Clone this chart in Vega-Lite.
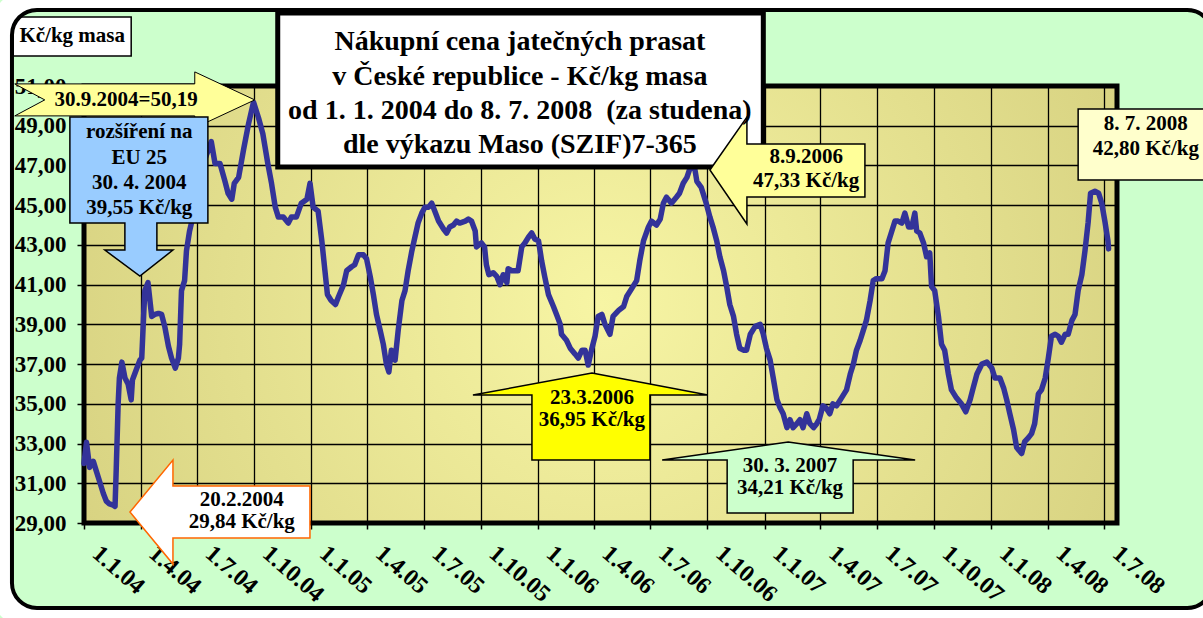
{
  "$schema": "https://vega.github.io/schema/vega-lite/v6.json",
  "width": 1033,
  "height": 437,
  "autosize": {"type": "none"},
  "padding": {"left": 84, "top": 86, "right": 86, "bottom": 95},
  "background": "#CCFFCC",
  "config": {
    "font": "Liberation Serif",
    "axis": {"labelOverlap": false, "labelFlush": false, "labelBound": false, "labelSeparation": 0,
      "labelFont": "Liberation Serif", "labelFontWeight": "bold", "labelColor": "#000000",
      "tickColor": "#000000", "tickWidth": 1.5, "domain": false,
      "grid": true, "gridColor": "#000000", "gridWidth": 1.3, "gridOpacity": 1, "title": null},
    "axisX": {"labelAngle": 41, "labelAlign": "left", "labelBaseline": "top", "labelPadding": 12, "labelOffset": 19,
      "labelFontSize": 24, "tickSize": 6, "labelOverlap": false, "tickCount": 40},
    "axisY": {"labelFontSize": 23, "labelPadding": 11, "tickSize": 7, "labelOverlap": false, "tickCount": 40},
    "view": {
      "stroke": "#000000",
      "strokeWidth": 5,
      "fill": {"gradient": "radial", "x1": 0.5, "y1": 0.5, "r1": 0, "x2": 0.5, "y2": 0.5, "r2": 0.72,
        "stops": [{"offset": 0, "color": "#F7F5A4"}, {"offset": 1, "color": "#CEC877"}]}
    },
    "text": {"font": "Liberation Serif", "fontWeight": "bold", "color": "#000000"}
  },
  "datasets": {
    "prices": [
      {"date": "2004-01-01", "price": 32.0}, {"date": "2004-01-05", "price": 33.06}, {"date": "2004-01-10", "price": 31.8},
      {"date": "2004-01-16", "price": 32.1}, {"date": "2004-01-21", "price": 31.6}, {"date": "2004-01-26", "price": 31.1},
      {"date": "2004-02-01", "price": 30.5}, {"date": "2004-02-06", "price": 30.1}, {"date": "2004-02-11", "price": 29.96},
      {"date": "2004-02-17", "price": 29.9}, {"date": "2004-02-20", "price": 29.84}, {"date": "2004-02-22", "price": 31.8},
      {"date": "2004-02-25", "price": 35.0}, {"date": "2004-02-27", "price": 36.3}, {"date": "2004-03-02", "price": 37.1},
      {"date": "2004-03-07", "price": 36.3}, {"date": "2004-03-12", "price": 36.0}, {"date": "2004-03-17", "price": 35.2},
      {"date": "2004-03-19", "price": 36.2}, {"date": "2004-03-25", "price": 36.7}, {"date": "2004-03-31", "price": 37.2},
      {"date": "2004-04-03", "price": 37.3}, {"date": "2004-04-06", "price": 39.4}, {"date": "2004-04-08", "price": 40.7},
      {"date": "2004-04-13", "price": 41.1}, {"date": "2004-04-19", "price": 39.4}, {"date": "2004-04-24", "price": 39.5},
      {"date": "2004-04-30", "price": 39.55}, {"date": "2004-05-05", "price": 39.5}, {"date": "2004-05-10", "price": 38.9},
      {"date": "2004-05-16", "price": 37.9}, {"date": "2004-05-21", "price": 37.3}, {"date": "2004-05-27", "price": 36.8},
      {"date": "2004-06-01", "price": 37.3}, {"date": "2004-06-03", "price": 38.0}, {"date": "2004-06-06", "price": 40.7},
      {"date": "2004-06-11", "price": 41.2}, {"date": "2004-06-14", "price": 42.7}, {"date": "2004-06-19", "price": 43.7},
      {"date": "2004-06-22", "price": 44.1}, {"date": "2004-07-01", "price": 45.6}, {"date": "2004-07-10", "price": 47.0},
      {"date": "2004-07-24", "price": 48.2}, {"date": "2004-07-30", "price": 47.1}, {"date": "2004-08-07", "price": 47.1},
      {"date": "2004-08-15", "price": 46.2}, {"date": "2004-08-20", "price": 45.6}, {"date": "2004-08-26", "price": 45.3},
      {"date": "2004-08-30", "price": 46.1}, {"date": "2004-09-06", "price": 46.4}, {"date": "2004-09-14", "price": 47.8},
      {"date": "2004-09-22", "price": 49.1}, {"date": "2004-09-30", "price": 50.19}, {"date": "2004-10-08", "price": 49.4},
      {"date": "2004-10-15", "price": 48.6}, {"date": "2004-10-23", "price": 47.1}, {"date": "2004-10-29", "price": 46.1},
      {"date": "2004-11-04", "price": 44.9}, {"date": "2004-11-09", "price": 44.4}, {"date": "2004-11-17", "price": 44.4},
      {"date": "2004-11-25", "price": 44.1}, {"date": "2004-11-30", "price": 44.4}, {"date": "2004-12-08", "price": 44.4},
      {"date": "2004-12-16", "price": 45.1}, {"date": "2004-12-25", "price": 45.3}, {"date": "2004-12-30", "price": 46.1},
      {"date": "2005-01-04", "price": 44.9}, {"date": "2005-01-12", "price": 44.7}, {"date": "2005-01-18", "price": 43.2},
      {"date": "2005-01-23", "price": 41.7}, {"date": "2005-01-27", "price": 40.5}, {"date": "2005-02-02", "price": 40.2},
      {"date": "2005-02-09", "price": 40.0}, {"date": "2005-02-14", "price": 40.4}, {"date": "2005-02-22", "price": 41.0},
      {"date": "2005-02-27", "price": 41.7}, {"date": "2005-03-07", "price": 41.9}, {"date": "2005-03-12", "price": 42.0},
      {"date": "2005-03-18", "price": 42.5}, {"date": "2005-03-26", "price": 42.5}, {"date": "2005-03-31", "price": 42.3},
      {"date": "2005-04-06", "price": 41.4}, {"date": "2005-04-11", "price": 40.5}, {"date": "2005-04-16", "price": 39.5},
      {"date": "2005-04-22", "price": 38.7}, {"date": "2005-04-27", "price": 38.0}, {"date": "2005-05-02", "price": 37.0},
      {"date": "2005-05-06", "price": 36.6}, {"date": "2005-05-10", "price": 37.7}, {"date": "2005-05-16", "price": 37.2},
      {"date": "2005-05-21", "price": 38.7}, {"date": "2005-05-27", "price": 40.2}, {"date": "2005-06-01", "price": 40.7},
      {"date": "2005-06-06", "price": 41.7}, {"date": "2005-06-12", "price": 42.7}, {"date": "2005-06-17", "price": 43.4},
      {"date": "2005-06-22", "price": 44.1}, {"date": "2005-06-28", "price": 44.6}, {"date": "2005-07-03", "price": 44.9},
      {"date": "2005-07-09", "price": 44.9}, {"date": "2005-07-14", "price": 45.1}, {"date": "2005-07-19", "price": 44.7},
      {"date": "2005-07-25", "price": 44.2}, {"date": "2005-08-02", "price": 43.8}, {"date": "2005-08-07", "price": 43.6},
      {"date": "2005-08-12", "price": 43.9}, {"date": "2005-08-18", "price": 44.0}, {"date": "2005-08-23", "price": 44.2},
      {"date": "2005-08-28", "price": 44.1}, {"date": "2005-09-06", "price": 44.2}, {"date": "2005-09-11", "price": 44.3},
      {"date": "2005-09-16", "price": 44.2}, {"date": "2005-09-22", "price": 43.7}, {"date": "2005-09-24", "price": 42.9},
      {"date": "2005-10-02", "price": 43.1}, {"date": "2005-10-07", "price": 42.9}, {"date": "2005-10-10", "price": 42.0},
      {"date": "2005-10-14", "price": 41.5}, {"date": "2005-10-21", "price": 41.6}, {"date": "2005-10-27", "price": 41.4},
      {"date": "2005-11-01", "price": 41.0}, {"date": "2005-11-06", "price": 41.5}, {"date": "2005-11-12", "price": 41.1},
      {"date": "2005-11-14", "price": 41.8}, {"date": "2005-11-20", "price": 41.7}, {"date": "2005-11-30", "price": 41.7},
      {"date": "2005-12-06", "price": 42.9}, {"date": "2005-12-11", "price": 43.1}, {"date": "2005-12-17", "price": 43.4},
      {"date": "2005-12-22", "price": 43.6}, {"date": "2005-12-27", "price": 43.3}, {"date": "2006-01-02", "price": 43.2},
      {"date": "2006-01-07", "price": 42.2}, {"date": "2006-01-12", "price": 41.4}, {"date": "2006-01-18", "price": 40.5},
      {"date": "2006-01-26", "price": 39.9}, {"date": "2006-01-31", "price": 39.5}, {"date": "2006-02-06", "price": 39.0},
      {"date": "2006-02-08", "price": 38.5}, {"date": "2006-02-16", "price": 38.2}, {"date": "2006-02-22", "price": 37.8},
      {"date": "2006-03-02", "price": 37.5}, {"date": "2006-03-07", "price": 37.3}, {"date": "2006-03-13", "price": 37.7},
      {"date": "2006-03-18", "price": 37.7}, {"date": "2006-03-23", "price": 36.95}, {"date": "2006-03-29", "price": 37.8},
      {"date": "2006-04-03", "price": 38.4}, {"date": "2006-04-08", "price": 39.4}, {"date": "2006-04-14", "price": 39.5},
      {"date": "2006-04-19", "price": 39.0}, {"date": "2006-04-27", "price": 38.5}, {"date": "2006-05-02", "price": 39.4},
      {"date": "2006-05-11", "price": 39.7}, {"date": "2006-05-19", "price": 39.9}, {"date": "2006-05-24", "price": 40.4},
      {"date": "2006-06-01", "price": 40.8}, {"date": "2006-06-09", "price": 41.2}, {"date": "2006-06-14", "price": 42.2},
      {"date": "2006-06-20", "price": 43.2}, {"date": "2006-06-28", "price": 43.9}, {"date": "2006-07-03", "price": 44.2},
      {"date": "2006-07-11", "price": 44.0}, {"date": "2006-07-17", "price": 44.3}, {"date": "2006-07-22", "price": 45.1},
      {"date": "2006-07-27", "price": 45.4}, {"date": "2006-08-04", "price": 45.1}, {"date": "2006-08-12", "price": 45.4},
      {"date": "2006-08-17", "price": 45.6}, {"date": "2006-08-23", "price": 46.1}, {"date": "2006-08-29", "price": 46.4},
      {"date": "2006-09-08", "price": 47.33}, {"date": "2006-09-14", "price": 46.2}, {"date": "2006-09-21", "price": 45.9},
      {"date": "2006-09-29", "price": 45.1}, {"date": "2006-10-05", "price": 44.4}, {"date": "2006-10-10", "price": 43.9},
      {"date": "2006-10-16", "price": 43.2}, {"date": "2006-10-21", "price": 42.4}, {"date": "2006-10-27", "price": 41.7},
      {"date": "2006-11-01", "price": 40.9}, {"date": "2006-11-06", "price": 40.0}, {"date": "2006-11-12", "price": 39.4},
      {"date": "2006-11-17", "price": 38.5}, {"date": "2006-11-22", "price": 37.8}, {"date": "2006-11-28", "price": 37.7},
      {"date": "2006-12-03", "price": 37.7}, {"date": "2006-12-09", "price": 38.5}, {"date": "2006-12-17", "price": 38.9},
      {"date": "2006-12-25", "price": 39.0}, {"date": "2006-12-30", "price": 38.5}, {"date": "2007-01-04", "price": 37.8},
      {"date": "2007-01-10", "price": 37.2}, {"date": "2007-01-15", "price": 36.3}, {"date": "2007-01-21", "price": 35.2},
      {"date": "2007-01-26", "price": 34.8}, {"date": "2007-01-31", "price": 34.5}, {"date": "2007-02-06", "price": 33.8},
      {"date": "2007-02-11", "price": 34.2}, {"date": "2007-02-16", "price": 33.8}, {"date": "2007-02-22", "price": 34.0},
      {"date": "2007-02-27", "price": 34.2}, {"date": "2007-03-04", "price": 33.8}, {"date": "2007-03-10", "price": 34.5},
      {"date": "2007-03-15", "price": 34.0}, {"date": "2007-03-21", "price": 33.8}, {"date": "2007-03-26", "price": 34.0},
      {"date": "2007-03-30", "price": 34.21}, {"date": "2007-04-05", "price": 34.9}, {"date": "2007-04-10", "price": 34.8},
      {"date": "2007-04-16", "price": 34.5}, {"date": "2007-04-21", "price": 35.0}, {"date": "2007-04-27", "price": 34.9},
      {"date": "2007-05-05", "price": 35.3}, {"date": "2007-05-13", "price": 35.7}, {"date": "2007-05-19", "price": 36.5},
      {"date": "2007-05-24", "price": 37.0}, {"date": "2007-05-29", "price": 37.7}, {"date": "2007-06-04", "price": 38.2},
      {"date": "2007-06-09", "price": 38.7}, {"date": "2007-06-14", "price": 39.2}, {"date": "2007-06-20", "price": 40.2},
      {"date": "2007-06-25", "price": 41.2}, {"date": "2007-06-30", "price": 41.3}, {"date": "2007-07-09", "price": 41.3},
      {"date": "2007-07-14", "price": 41.7}, {"date": "2007-07-19", "price": 43.1}, {"date": "2007-07-25", "price": 43.7},
      {"date": "2007-07-30", "price": 44.2}, {"date": "2007-08-04", "price": 44.2}, {"date": "2007-08-10", "price": 44.1},
      {"date": "2007-08-15", "price": 44.6}, {"date": "2007-08-21", "price": 43.9}, {"date": "2007-08-26", "price": 43.9},
      {"date": "2007-08-31", "price": 44.6}, {"date": "2007-09-03", "price": 43.7}, {"date": "2007-09-08", "price": 43.6},
      {"date": "2007-09-14", "price": 43.1}, {"date": "2007-09-19", "price": 42.4}, {"date": "2007-09-24", "price": 42.6},
      {"date": "2007-09-27", "price": 40.9}, {"date": "2007-10-02", "price": 40.7}, {"date": "2007-10-08", "price": 39.4},
      {"date": "2007-10-13", "price": 38.0}, {"date": "2007-10-18", "price": 37.7}, {"date": "2007-10-24", "price": 36.5},
      {"date": "2007-10-29", "price": 35.7}, {"date": "2007-11-06", "price": 35.3}, {"date": "2007-11-14", "price": 35.0},
      {"date": "2007-11-21", "price": 34.6}, {"date": "2007-11-28", "price": 35.2}, {"date": "2007-12-03", "price": 35.8},
      {"date": "2007-12-09", "price": 36.5}, {"date": "2007-12-17", "price": 37.0}, {"date": "2007-12-25", "price": 37.1},
      {"date": "2008-01-02", "price": 36.8}, {"date": "2008-01-07", "price": 36.3}, {"date": "2008-01-15", "price": 36.3},
      {"date": "2008-01-21", "price": 35.8}, {"date": "2008-01-26", "price": 35.2}, {"date": "2008-01-31", "price": 34.5},
      {"date": "2008-02-06", "price": 33.7}, {"date": "2008-02-11", "price": 32.8}, {"date": "2008-02-19", "price": 32.5},
      {"date": "2008-02-24", "price": 33.1}, {"date": "2008-03-01", "price": 33.3}, {"date": "2008-03-06", "price": 33.5},
      {"date": "2008-03-11", "price": 34.0}, {"date": "2008-03-17", "price": 35.5}, {"date": "2008-03-22", "price": 35.7},
      {"date": "2008-03-28", "price": 36.3}, {"date": "2008-04-02", "price": 37.3}, {"date": "2008-04-07", "price": 38.4},
      {"date": "2008-04-13", "price": 38.5}, {"date": "2008-04-18", "price": 38.4}, {"date": "2008-04-23", "price": 38.1},
      {"date": "2008-04-29", "price": 38.5}, {"date": "2008-05-04", "price": 38.5}, {"date": "2008-05-10", "price": 39.2},
      {"date": "2008-05-15", "price": 39.5}, {"date": "2008-05-20", "price": 40.7}, {"date": "2008-05-26", "price": 41.5},
      {"date": "2008-05-31", "price": 42.7}, {"date": "2008-06-05", "price": 44.1}, {"date": "2008-06-09", "price": 45.6},
      {"date": "2008-06-16", "price": 45.7}, {"date": "2008-06-22", "price": 45.6}, {"date": "2008-06-27", "price": 45.1},
      {"date": "2008-07-02", "price": 44.2}, {"date": "2008-07-07", "price": 43.2}, {"date": "2008-07-08", "price": 42.8}
    ],
    "titleLines": [
      {"date": "2005-12-03", "value": 53.21, "text": "Nákupní cena jatečných prasat"},
      {"date": "2005-12-03", "value": 51.45, "text": "v České republice - Kč/kg masa"},
      {"date": "2005-12-03", "value": 49.74, "text": "od 1. 1. 2004 do 8. 7. 2008 \u00a0(za studena)"},
      {"date": "2005-12-03", "value": 48.03, "text": "dle výkazu Maso (SZIF)7-365"}
    ],
    "notes": [
      {"date": "2003-12-13", "value": 53.52, "text": "Kč/kg masa"},
      {"date": "2004-03-09", "value": 50.30, "text": "30.9.2004=50,19"},
      {"date": "2004-03-30", "value": 48.68, "text": "rozšíření na"},
      {"date": "2004-03-30", "value": 47.38, "text": "EU 25"},
      {"date": "2004-03-30", "value": 46.12, "text": "30. 4. 2004"},
      {"date": "2004-03-30", "value": 44.86, "text": "39,55 Kč/kg"},
      {"date": "2004-09-11", "value": 30.16, "text": "20.2.2004"},
      {"date": "2004-09-11", "value": 29.05, "text": "29,84 Kč/kg"},
      {"date": "2006-03-29", "value": 35.29, "text": "23.3.2006"},
      {"date": "2006-03-29", "value": 34.19, "text": "36,95 Kč/kg"},
      {"date": "2007-02-11", "value": 31.87, "text": "30. 3. 2007"},
      {"date": "2007-02-11", "value": 30.76, "text": "34,21 Kč/kg"},
      {"date": "2007-03-09", "value": 47.43, "text": "8.9.2006"},
      {"date": "2007-03-09", "value": 46.22, "text": "47,33 Kč/kg"},
      {"date": "2008-09-06", "value": 49.09, "text": "8. 7. 2008"},
      {"date": "2008-09-06", "value": 47.83, "text": "42,80 Kč/kg"}
    ]
  },
  "layer": [
    {
      "data": {"name": "prices"},
      "mark": {"type": "line", "color": "#333399", "strokeWidth": 5.5, "strokeJoin": "round", "strokeCap": "round"},
      "encoding": {
        "x": {
          "field": "date", "type": "temporal", "title": null,
          "scale": {"type": "utc", "nice": false,
            "domain": [{"year": 2004, "month": 1, "date": 1, "utc": true}, {"year": 2008, "month": 7, "date": 21, "hours": 14, "utc": true}]},
          "axis": {
            "values": [
              {"year": 2004, "month": 1, "date": 1, "utc": true}, {"year": 2004, "month": 4, "date": 1, "utc": true},
              {"year": 2004, "month": 7, "date": 1, "utc": true}, {"year": 2004, "month": 10, "date": 1, "utc": true},
              {"year": 2005, "month": 1, "date": 1, "utc": true}, {"year": 2005, "month": 4, "date": 1, "utc": true},
              {"year": 2005, "month": 7, "date": 1, "utc": true}, {"year": 2005, "month": 10, "date": 1, "utc": true},
              {"year": 2006, "month": 1, "date": 1, "utc": true}, {"year": 2006, "month": 4, "date": 1, "utc": true},
              {"year": 2006, "month": 7, "date": 1, "utc": true}, {"year": 2006, "month": 10, "date": 1, "utc": true},
              {"year": 2007, "month": 1, "date": 1, "utc": true}, {"year": 2007, "month": 4, "date": 1, "utc": true},
              {"year": 2007, "month": 7, "date": 1, "utc": true}, {"year": 2007, "month": 10, "date": 1, "utc": true},
              {"year": 2008, "month": 1, "date": 1, "utc": true}, {"year": 2008, "month": 4, "date": 1, "utc": true},
              {"year": 2008, "month": 7, "date": 1, "utc": true}
            ],
            "labelExpr": "utcFormat(datum.value, '%-d.%-m.%y')",
            "labelOverlap": false,
            "tickCount": 40
          }
        },
        "y": {
          "field": "price", "type": "quantitative", "title": null,
          "scale": {"domain": [29, 51], "nice": false, "zero": false},
          "axis": {
            "values": [29, 31, 33, 35, 37, 39, 41, 43, 45, 47, 49, 51],
            "labelExpr": "replace(format(datum.value, '.2f'), '.', ',')",
            "labelOverlap": false,
            "tickCount": 40
          }
        }
      }
    },
    {
      "data": {"values": [{"date": "2004-11-08", "date2": "2006-12-30", "value": 54.67, "value2": 46.92}]},
      "mark": {"type": "rect", "fill": "#FFFFFF", "stroke": "#000000", "strokeWidth": 5},
      "encoding": {
        "x": {"field": "date", "type": "temporal", "title": null}, "x2": {"field": "date2"},
        "y": {"field": "value", "type": "quantitative", "title": null}, "y2": {"field": "value2"}
      }
    },
    {
      "data": {"values": [{"date": "2003-09-09", "date2": "2004-03-17", "value": 54.47, "value2": 52.51}]},
      "mark": {"type": "rect", "fill": "#FFFFFF", "stroke": "#000000", "strokeWidth": 1.5},
      "encoding": {
        "x": {"field": "date", "type": "temporal", "title": null}, "x2": {"field": "date2"},
        "y": {"field": "value", "type": "quantitative", "title": null}, "y2": {"field": "value2"}
      }
    },
    {
      "data": {"values": [{"date": "2008-05-20", "date2": "2008-12-26", "value": 49.84, "value2": 46.27}]},
      "mark": {"type": "rect", "fill": "#FFFFCC", "stroke": "#000000", "strokeWidth": 1.5},
      "encoding": {
        "x": {"field": "date", "type": "temporal", "title": null}, "x2": {"field": "date2"},
        "y": {"field": "value", "type": "quantitative", "title": null}, "y2": {"field": "value2"}
      }
    },
    {
      "data": {"values": [{"date": "2004-10-02", "value": 50.30}]},
      "mark": {"type": "point", "shape": "M-240,-16L-60,-16L-60,-28L0,0L-60,28L-60,16L-240,16L-210,0Z", "size": 4, "filled": true, "opacity": 1, "fill": "#FFFF99", "stroke": "#000000", "strokeWidth": 1},
      "encoding": {"x": {"field": "date", "type": "temporal", "title": null}, "y": {"field": "value", "type": "quantitative", "title": null}}
    },
    {
      "data": {"values": [{"date": "2004-03-31", "value": 41.43}]},
      "mark": {"type": "point", "shape": "M-70,-159L68,-159L68,-53L17,-53L17,-26L33,-26L0,0L-35,-26L-15,-26L-15,-53L-70,-53Z", "size": 4, "filled": true, "opacity": 1, "fill": "#99CCFF", "stroke": "#000000", "strokeWidth": 1.5},
      "encoding": {"x": {"field": "date", "type": "temporal", "title": null}, "y": {"field": "value", "type": "quantitative", "title": null}}
    },
    {
      "data": {"values": [{"date": "2004-03-15", "value": 29.55}]},
      "mark": {"type": "point", "shape": "M0,0L43,-52L43,-26L180,-26L180,26L43,26L43,52Z", "size": 4, "filled": true, "opacity": 1, "fill": "#FFFFFF", "stroke": "#FF6600", "strokeWidth": 1.5},
      "encoding": {"x": {"field": "date", "type": "temporal", "title": null}, "y": {"field": "value", "type": "quantitative", "title": null}}
    },
    {
      "data": {"values": [{"date": "2006-03-29", "value": 36.55}]},
      "mark": {"type": "point", "shape": "M0,0L116,22L58,22L58,87L-60,87L-60,22L-119,22Z", "size": 4, "filled": true, "opacity": 1, "fill": "#FFFF00", "stroke": "#000000", "strokeWidth": 1.5},
      "encoding": {"x": {"field": "date", "type": "temporal", "title": null}, "y": {"field": "value", "type": "quantitative", "title": null}}
    },
    {
      "data": {"values": [{"date": "2007-02-08", "value": 33.08}]},
      "mark": {"type": "point", "shape": "M0,0L127,18L65,18L65,71L-61,71L-61,18L-126,18Z", "size": 4, "filled": true, "opacity": 1, "fill": "#CCFFCC", "stroke": "#000000", "strokeWidth": 1.5},
      "encoding": {"x": {"field": "date", "type": "temporal", "title": null}, "y": {"field": "value", "type": "quantitative", "title": null}}
    },
    {
      "data": {"values": [{"date": "2006-10-05", "value": 46.77}]},
      "mark": {"type": "point", "shape": "M0,0L37,-53L37,-26L155,-26L155,27L37,27L37,54Z", "size": 4, "filled": true, "opacity": 1, "fill": "#FFFF99", "stroke": "#000000", "strokeWidth": 1.5},
      "encoding": {"x": {"field": "date", "type": "temporal", "title": null}, "y": {"field": "value", "type": "quantitative", "title": null}}
    },
    {
      "data": {"name": "titleLines"},
      "mark": {"type": "text", "font": "Liberation Serif", "fontWeight": "bold", "fontSize": 28, "align": "center", "baseline": "middle", "color": "#000000"},
      "encoding": {
        "x": {"field": "date", "type": "temporal", "title": null},
        "y": {"field": "value", "type": "quantitative", "title": null},
        "text": {"field": "text"}
      }
    },
    {
      "data": {"name": "notes"},
      "mark": {"type": "text", "font": "Liberation Serif", "fontWeight": "bold", "fontSize": 21, "align": "center", "baseline": "middle", "color": "#000000"},
      "encoding": {
        "x": {"field": "date", "type": "temporal", "title": null},
        "y": {"field": "value", "type": "quantitative", "title": null},
        "text": {"field": "text"}
      }
    },
    {
      "data": {"values": [{"date": "2003-08-19", "date2": "2009-01-10", "value": 55.43, "value2": 24.12}]},
      "mark": {"type": "rect", "fill": "transparent", "stroke": "#FFFFFF", "strokeWidth": 24, "cornerRadius": 37},
      "encoding": {
        "x": {"field": "date", "type": "temporal", "title": null}, "x2": {"field": "date2"},
        "y": {"field": "value", "type": "quantitative", "title": null}, "y2": {"field": "value2"}
      }
    },
    {
      "data": {"values": [{"date": "2003-09-07", "date2": "2008-12-22", "value": 54.83, "value2": 24.72}]},
      "mark": {"type": "rect", "fill": "transparent", "stroke": "#000000", "strokeWidth": 4, "cornerRadius": 25},
      "encoding": {
        "x": {"field": "date", "type": "temporal", "title": null}, "x2": {"field": "date2"},
        "y": {"field": "value", "type": "quantitative", "title": null}, "y2": {"field": "value2"}
      }
    }
  ]
}
